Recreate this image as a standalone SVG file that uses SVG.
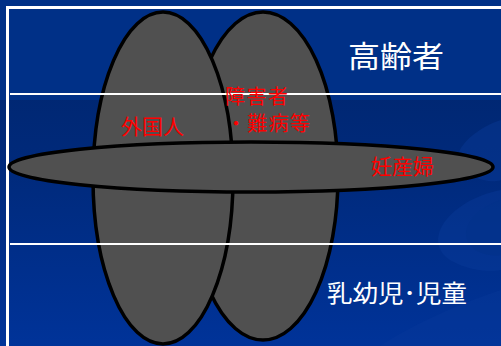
<svg xmlns="http://www.w3.org/2000/svg" width="501" height="346" viewBox="0 0 501 346">
<defs>
<style>
.shape{fill:#505050;stroke:#000;stroke-width:3.5}
.rule{stroke:#fff;stroke-width:2;fill:none}
.w{fill:#fff;font-family:"Noto Sans CJK JP","Noto Sans",sans-serif}
.r{fill:#ff0000;font-family:"Noto Sans CJK JP","Noto Sans",sans-serif;font-size:21px}
.r2{fill:#ff0000;font-family:"Noto Sans CJK JP","Noto Sans",sans-serif;font-size:20px}
</style>
<linearGradient id="bg" x1="0" y1="0" x2="0" y2="1">
<stop offset="0" stop-color="#002468"/>
<stop offset="0.5" stop-color="#002a7c"/>
<stop offset="1" stop-color="#003399"/>
</linearGradient>
</defs>
<g id="background">
<rect x="0" y="0" width="501" height="346" fill="url(#bg)"/>
<rect x="0" y="0" width="501" height="100" fill="#003087"/>
<path d="M501,120 C470,130 440,160 470,175 C490,185 501,180 501,180 Z" fill="#0a3c9c" opacity="0.4"/>
<path d="M501,190 C450,200 420,240 450,260 C475,275 501,270 501,270 Z" fill="#0a3c9c" opacity="0.4"/>
<path d="M501,200 C470,210 455,235 475,250 C490,258 501,255 501,255 Z" fill="#03328a" opacity="0.6"/>
<path d="M380,346 C420,320 470,300 501,290 L501,346 Z" fill="#0a3c9c" opacity="0.3"/>
<rect x="7.5" y="7.5" width="520" height="360" fill="none" stroke="#fff" stroke-width="3"/>
</g>
<g id="node-disability">
<ellipse class="shape" cx="263" cy="176" rx="75" ry="164"/>
</g>
<g id="node-foreigner">
<ellipse class="shape" cx="163" cy="178" rx="70" ry="166"/>
</g>
<g id="node-pregnant">
<ellipse class="shape" cx="251" cy="167" rx="242" ry="25"/>
</g>
<g id="connectors">
<line class="rule" x1="10" y1="94" x2="501" y2="94"/>
<line class="rule" x1="10" y1="244" x2="501" y2="244"/>
</g>
<g id="labels">
<text class="w" x="348" y="67" font-size="30" textLength="96" lengthAdjust="spacingAndGlyphs">高齢者</text>
<text class="w" x="327" y="302" font-size="24" textLength="140" lengthAdjust="spacingAndGlyphs">乳幼児･児童</text>
<text class="r2" x="225" y="104" textLength="63">障害者</text>
<text class="r2" x="226" y="131" textLength="84">・難病等</text>
<text class="r" x="121" y="134">外国人</text>
<text class="r" x="371" y="174">妊産婦</text>
</g>
</svg>
